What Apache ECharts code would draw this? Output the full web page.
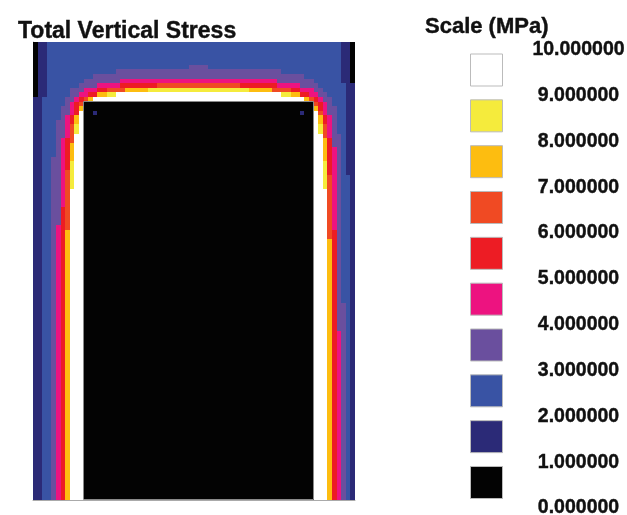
<!DOCTYPE html>
<html>
<head>
<meta charset="utf-8">
<style>html,body{margin:0;padding:0;background:#fff}#c{width:627px;height:515px}</style>
<script src="https://cdn.jsdelivr.net/npm/echarts@6/dist/echarts.min.js"></script>
</head>
<body>
<div id="c"></div>
<script>
const levelColors = ['#030303','#2B2A77','#3953A4','#6A4F9E','#ED1380','#ED1C24','#F04A23','#FDBD10','#F5EB3C','#FFFFFF'];
const scaleTicks = ['0.000000','1.000000','2.000000','3.000000','4.000000','5.000000','6.000000','7.000000','8.000000','9.000000','10.000000'];
const columnCount = 70;
const rowTotal = 100;
// outline of the opening: first column, end column, first row, end row
const openingOutline = [[11, 61, 13, 100]];
// [number of rows, "startColumn:level ..."] from the top of the section downwards
const rowGroups = [
  [5,"0:0 1:1 3:2 67:1 69:0"],
  [1,"0:0 1:1 3:2 34:3 38:2 67:1 69:0"],
  [1,"0:0 1:1 3:2 18:3 54:2 67:1 69:0"],
  [1,"0:0 1:1 3:2 13:3 59:2 67:1 69:0"],
  [1,"0:0 1:1 3:2 11:3 19:4 53:3 61:2 67:1 69:0"],
  [1,"0:0 1:1 3:2 10:3 14:4 19:5 27:6 45:5 53:4 58:3 62:2 68:1"],
  [1,"0:0 1:1 3:2 8:3 11:4 14:5 16:6 20:7 25:8 47:7 52:6 56:5 58:4 61:3 63:2 68:1"],
  [1,"0:0 1:1 3:2 8:3 10:4 12:5 14:7 16:8 18:9 54:8 56:7 58:5 60:4 62:3 64:2 68:1"],
  [1,"0:1 2:2 7:3 9:4 10:5 11:6 12:7 13:9 59:7 60:6 61:5 62:4 63:3 65:2 68:1"],
  [1,"0:1 2:2 7:3 8:4 9:5 10:6 11:0 61:6 62:5 63:4 64:3 65:2 68:1"],
  [1,"0:1 2:2 6:3 8:4 9:5 10:7 11:0 61:7 62:5 63:4 64:3 66:2 68:1"],
  [1,"0:1 2:2 6:3 8:4 9:5 10:9 11:0 13:1 14:0 58:1 59:0 61:9 62:6 63:4 64:3 66:2 68:1"],
  [1,"0:1 2:2 6:3 7:4 8:5 9:7 10:9 11:0 61:9 62:7 63:5 64:4 65:3 66:2 68:1"],
  [1,"0:1 2:2 5:3 7:4 8:5 9:7 10:9 11:0 61:9 62:7 63:5 64:4 65:3 66:2 68:1"],
  [2,"0:1 2:2 5:3 7:4 8:6 9:8 10:9 11:0 61:9 62:8 63:6 64:4 65:3 66:2 68:1"],
  [1,"0:1 2:2 5:3 7:4 8:6 9:9 11:0 61:9 63:6 64:4 65:3 67:2 68:1"],
  [1,"0:1 2:2 5:3 6:4 7:5 8:6 9:9 11:0 61:9 63:7 64:5 65:3 67:2 68:1"],
  [1,"0:1 2:2 5:3 6:4 7:5 8:7 9:9 11:0 61:9 63:7 64:5 65:3 67:2 68:1"],
  [2,"0:1 2:2 5:3 6:4 7:5 8:7 9:9 11:0 61:9 63:7 64:5 65:4 66:3 67:2 68:1"],
  [1,"0:1 2:2 4:3 6:4 7:5 8:7 9:9 11:0 61:9 63:7 64:5 65:4 66:3 67:2 68:1"],
  [2,"0:1 2:2 4:3 6:4 7:5 8:8 9:9 11:0 61:9 63:8 64:5 65:4 66:3 67:2 68:1"],
  [1,"0:1 2:2 4:3 6:4 7:6 8:8 9:9 11:0 61:9 63:8 64:5 65:4 66:3 67:2 68:1"],
  [3,"0:1 2:2 4:3 6:4 7:6 8:8 9:9 11:0 61:9 63:8 64:6 65:4 66:3 67:2 69:1"],
  [4,"0:1 2:2 4:3 6:4 7:6 8:9 11:0 61:9 64:6 65:4 66:3 67:2 69:1"],
  [4,"0:1 2:2 4:3 6:5 7:6 8:9 11:0 61:9 64:6 65:4 66:3 67:2 69:1"],
  [1,"0:1 2:2 4:3 5:4 6:5 7:6 8:9 11:0 61:9 64:6 65:4 66:3 67:2 69:1"],
  [2,"0:1 2:2 4:3 5:4 6:5 7:7 8:9 11:0 61:9 64:6 65:5 66:3 67:2 69:1"],
  [14,"0:1 2:2 4:3 5:4 6:5 7:7 8:9 11:0 61:9 64:7 65:5 66:3 67:2 69:1"],
  [6,"0:1 2:2 4:3 5:4 6:5 7:7 8:9 11:0 61:9 64:7 65:5 66:3 68:2 69:1"],
  [37,"0:1 2:2 4:3 5:4 6:5 7:7 8:9 11:0 61:9 64:7 65:5 66:4 67:3 68:2 69:1"]
];

// each record: first column, end column, row, level
const runs = [];
let rowIndex = 0;
for (const [count, text] of rowGroups) {
  const breaks = text.split(' ').map(s => s.split(':').map(Number));
  for (let n = 0; n < count; n++, rowIndex++) {
    breaks.forEach(([start, level], i) => {
      const end = i + 1 < breaks.length ? breaks[i + 1][0] : columnCount;
      runs.push([start, end, rowIndex, level]);
    });
  }
}
const font = '"Liberation Sans", Arial, sans-serif';
const heavy = {textBorderColor:'#111', textBorderWidth:0.4};
const chart = echarts.init(document.getElementById('c'), null, {renderer:'canvas'});
chart.setOption({
  animation: false,
  backgroundColor: '#fff',
  title: [
    {text:'Total Vertical Stress', left:18, top:20, padding:0, textStyle:{fontFamily:font, fontWeight:'bold', fontSize:23, color:'#111', ...heavy}},
    {text:'Scale (MPa)', left:425, top:16, padding:0, textStyle:{fontFamily:font, fontWeight:'bold', fontSize:22, color:'#111', ...heavy}}
  ],
  tooltip: {show:false},
  grid: [
    {left:33, top:42, width:322, height:458, outerBoundsMode:'none'},
    {left:470, top:47.1, width:33, height:458.3, outerBoundsMode:'none'},
    {left:470, top:49.7, width:33, height:458.3, outerBoundsMode:'none'}
  ],
  xAxis: [
    {type:'value', gridIndex:0, min:0, max:columnCount, interval:10, show:true, position:'bottom',
      axisLine:{show:true, onZero:false, lineStyle:{color:'#aaa', width:1}}, axisTick:{show:false}, axisLabel:{show:false}, splitLine:{show:false}},
    {type:'value', gridIndex:1, min:0, max:1, show:false},
    {type:'value', gridIndex:2, min:0, max:1, show:false}
  ],
  yAxis: [
    {type:'value', gridIndex:0, inverse:true, min:0, max:rowTotal, interval:10, show:true,
      axisLine:{show:true, onZero:false, lineStyle:{color:'#aaa', width:1}}, axisTick:{show:false}, axisLabel:{show:false}, splitLine:{show:false}},
    {type:'category', gridIndex:1, data:levelColors.map((_, i)=>i), show:false},
    {type:'category', gridIndex:2, boundaryGap:false, data:scaleTicks, position:'right',
      axisLine:{show:false}, axisTick:{show:false}, splitLine:{show:false},
      axisLabel:{show:true, interval:0, margin:75.5, align:'center', fontFamily:font, fontWeight:'bold', fontSize:19.5, color:'#111', ...heavy}}
  ],
  series: [
    {type:'custom', xAxisIndex:0, yAxisIndex:0, data:runs, silent:true, clip:false, z:1,
      encode:{x:[0,1], y:2},
      renderItem(params, api){
        const a = api.coord([api.value(0), api.value(2)]);
        const b = api.coord([api.value(1), api.value(2) + 1]);
        const x0 = Math.round(a[0]), y0 = Math.round(a[1]);
        return {type:'rect',
          shape:{x:x0, y:y0, width:Math.round(b[0]) - x0, height:Math.round(b[1]) - y0},
          style:{fill:levelColors[api.value(3)]}};
      }},
    {type:'custom', xAxisIndex:0, yAxisIndex:0, data:openingOutline, silent:true, clip:false, z:2,
      encode:{x:[0,1], y:[2,3]},
      renderItem(params, api){
        const a = api.coord([api.value(0), api.value(2)]);
        const b = api.coord([api.value(1), api.value(3)]);
        const x0 = Math.round(a[0]) - 0.5, y0 = Math.round(a[1]) - 0.5;
        return {type:'rect',
          shape:{x:x0, y:y0, width:Math.round(b[0]) - 0.5 - x0, height:Math.round(b[1]) - 0.5 - y0},
          style:{fill:'none', stroke:'#8a8a8a', lineWidth:1}};
      }},
    {type:'bar', xAxisIndex:1, yAxisIndex:1, barWidth:33, silent:true,
      data: levelColors.map(color=>({value:1, itemStyle:{color, borderColor:'#bbb', borderWidth:1}}))}
  ]
});
</script>
</body>
</html>
